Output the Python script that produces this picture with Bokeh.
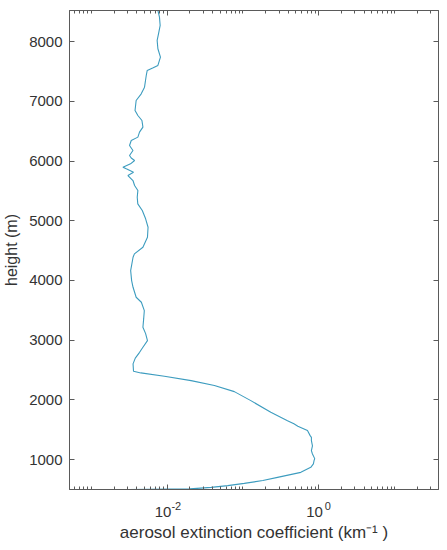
from bokeh.plotting import figure
from bokeh.models import Range1d, FixedTicker, LogAxis, LinearAxis, ColumnDataSource
from bokeh.embed import file_html
from bokeh.resources import INLINE

# height (m) and aerosol extinction coefficient (km^-1)
heights = [500, 510, 536, 565, 603, 650, 703, 787, 871, 930, 983, 1017, 1095, 1150,
           1230, 1318, 1374, 1402, 1486, 1514, 1560, 1600, 1653, 1792, 1988, 2139,
           2240, 2323, 2396, 2452, 2480, 2603, 2700, 2797, 2881, 2993, 3110, 3216,
           3356, 3496, 3635, 3719, 3886, 3998, 4166, 4389, 4445, 4556, 4724, 4891,
           5032, 5171, 5283, 5394, 5506, 5590, 5673, 5757, 5813, 5869, 5897, 5953,
           6008, 6050, 6092, 6175, 6259, 6343, 6400, 6483, 6567, 6678, 6762, 6846,
           7013, 7125, 7236, 7432, 7516, 7560, 7600, 7739, 7879, 8018, 8130, 8270,
           8409, 8521]
extinction = [0.0031, 0.020, 0.038, 0.063, 0.104, 0.183, 0.286, 0.58, 0.785, 0.85,
              0.867, 0.885, 0.826, 0.80, 0.826, 0.80, 0.80, 0.77, 0.71, 0.64, 0.53,
              0.47, 0.387, 0.233, 0.127, 0.077, 0.042, 0.0207, 0.0092, 0.0045, 0.0036,
              0.00355, 0.0038, 0.00433, 0.00479, 0.0055, 0.0052, 0.00479, 0.0049,
              0.0050, 0.00457, 0.0039, 0.00355, 0.0034, 0.0033, 0.00355, 0.0037,
              0.00479, 0.0055, 0.0056, 0.0052, 0.0047, 0.0041, 0.00403, 0.00411,
              0.00372, 0.00354, 0.00304, 0.0036, 0.00289, 0.00261, 0.00329, 0.00372,
              0.00336, 0.00319, 0.00354, 0.00319, 0.00336, 0.00411, 0.00432, 0.00479,
              0.00465, 0.00411, 0.00377, 0.0039, 0.00455, 0.00503, 0.0053, 0.00546,
              0.00655, 0.00755, 0.00816, 0.00755, 0.00738, 0.00769, 0.00809, 0.00792,
              0.00755]

y_ticks = [1000, 2000, 3000, 4000, 5000, 6000, 7000, 8000]
x_ticks = [0.01, 1]
x_tick_base = "10"
x_tick_exponents = ["-2", "0"]
x_minor_ticks = [k * 10.0 ** e for e in range(-4, 2) for k in range(1, 10)]

FONT = "Liberation Sans"
TEXT = "#333333"
AXC = "#5a5a5a"
BASE_PX = 15
EXP_PX = 11
NBSP = "\u00a0"

source = ColumnDataSource(data=dict(x=extinction, y=heights))

p = figure(frame_width=369, frame_height=479, x_axis_type="log",
           x_range=Range1d(5.15e-4, 38), y_range=Range1d(500, 8520),
           output_backend="svg", toolbar_location=None,
           min_border_left=61, min_border_top=10, min_border_right=8,
           min_border_bottom=40)
p.grid.visible = False
p.outline_line_color = AXC
p.outline_line_width = 1
p.background_fill_color = "white"

p.line("x", "y", source=source, line_color="#3d9cbf", line_width=1.1)

def style(ax, show_labels):
    ax.axis_line_color = AXC
    ax.major_tick_line_color = AXC
    ax.minor_tick_line_color = AXC
    ax.major_tick_in = 5
    ax.major_tick_out = 0
    ax.minor_tick_in = 3
    ax.minor_tick_out = 0
    ax.axis_label_text_font = FONT
    ax.axis_label_text_font_size = "17px"
    ax.axis_label_text_font_style = "normal"
    ax.axis_label_text_color = TEXT
    if show_labels:
        ax.major_label_text_font = FONT
        ax.major_label_text_font_size = f"{BASE_PX}px"
        ax.major_label_text_color = TEXT
    else:
        ax.major_label_text_font_size = "1px"
        ax.major_label_text_color = None
        ax.major_label_standoff = 0

xt = FixedTicker(ticks=x_ticks, minor_ticks=x_minor_ticks)
yt = FixedTicker(ticks=y_ticks, minor_ticks=[])

# primary bottom axis: box line, ticks and the raised exponents of the log labels
xa = p.xaxis[0]
xa.ticker = xt
style(xa, True)
xa.major_label_text_font_size = f"{EXP_PX}px"
xa.major_label_overrides = {t: NBSP * 6 + e for t, e in zip(x_ticks, x_tick_exponents)}
xa.major_label_standoff = 10

# second bottom axis: the "10" bases of the log labels and the axis title
xb = LogAxis(ticker=xt)
style(xb, True)
xb.axis_line_color = None
xb.major_tick_line_color = None
xb.minor_tick_line_color = None
xb.major_label_overrides = {t: x_tick_base + NBSP * 2 for t in x_ticks}
xb.major_label_standoff = -12
xb.axis_label = "aerosol extinction coefficient (km\u207b\u00b9 )"
xb.axis_label_standoff = 0
p.add_layout(xb, "below")

ya = p.yaxis[0]
ya.ticker = yt
ya.axis_label = "height (m)"
style(ya, True)
ya.axis_label_text_font_size = "16px"
ya.major_label_standoff = 7
ya.axis_label_standoff = 6

top = LogAxis(ticker=xt)
style(top, False)
p.add_layout(top, "above")
right = LinearAxis(ticker=yt)
style(right, False)
p.add_layout(right, "right")

open("out.html", "w").write(file_html(p, INLINE))
